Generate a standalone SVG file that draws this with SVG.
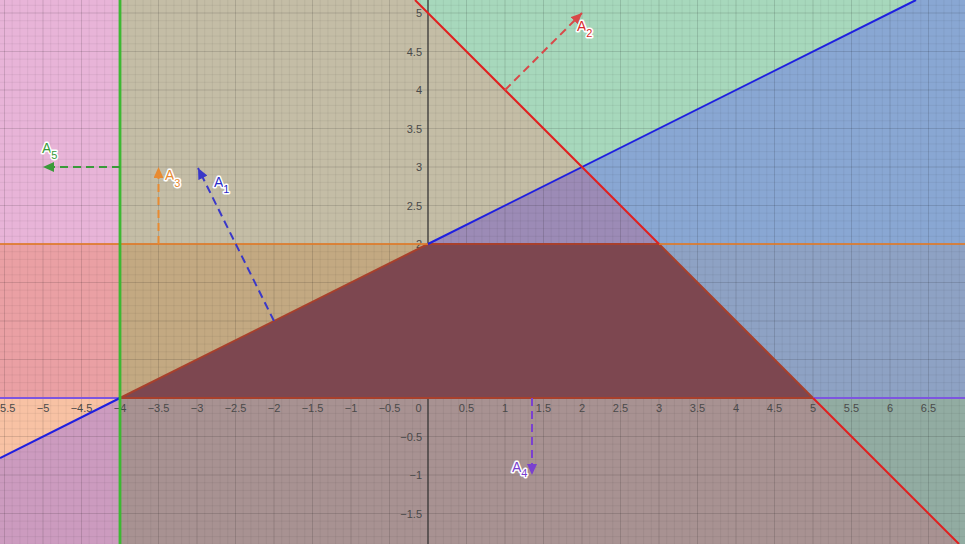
<svg xmlns="http://www.w3.org/2000/svg" width="965" height="544" viewBox="0 0 965 544">
<style>
.tick{font-family:"Liberation Sans",Arial,sans-serif;font-size:11px;fill:#4a4a4a}
.tx{text-anchor:middle}
.ty{text-anchor:end}
.lbl{font-family:"Liberation Sans",Arial,sans-serif;font-size:14px;stroke:#fff;stroke-width:3;stroke-linejoin:round;paint-order:stroke}
.sub{font-size:11px}
.vec{fill:none;stroke-width:2;stroke-dasharray:8 5}
.ln{fill:none;stroke-width:2}
.gl{fill:none;stroke-width:2.8}
</style>
<defs>
<pattern id="grid" patternUnits="userSpaceOnUse" x="428" y="398" width="77" height="77">
<path d="M7.7 0V77M15.4 0V77M23.1 0V77M30.8 0V77M46.2 0V77M53.9 0V77M61.6 0V77M69.3 0V77M0 7.7H77M0 15.4H77M0 23.1H77M0 30.8H77M0 46.2H77M0 53.9H77M0 61.6H77M0 69.3H77" stroke="#000" stroke-opacity="0.05" stroke-width="1" fill="none"/>
<path d="M0 0V77M38.5 0V77M77 0V77M0 0H77M0 38.5H77M0 77H77" stroke="#000" stroke-opacity="0.13" stroke-width="1" fill="none"/>
</pattern>
<marker id="mB" markerUnits="userSpaceOnUse" markerWidth="12" markerHeight="10" refX="11" refY="5" orient="auto"><path d="M0 0L11 5L0 10Z" fill="#3a38c8"/></marker>
<marker id="mR" markerUnits="userSpaceOnUse" markerWidth="12" markerHeight="10" refX="11" refY="5" orient="auto"><path d="M0 0L11 5L0 10Z" fill="#d84848"/></marker>
<marker id="mO" markerUnits="userSpaceOnUse" markerWidth="12" markerHeight="10" refX="11" refY="5" orient="auto"><path d="M0 0L11 5L0 10Z" fill="#e88a30"/></marker>
<marker id="mP" markerUnits="userSpaceOnUse" markerWidth="12" markerHeight="10" refX="11" refY="5" orient="auto"><path d="M0 0L11 5L0 10Z" fill="#7a40d0"/></marker>
<marker id="mG" markerUnits="userSpaceOnUse" markerWidth="12" markerHeight="10" refX="11" refY="5" orient="auto"><path d="M0 0L11 5L0 10Z" fill="#3a9a3a"/></marker>
</defs>

<g id="regions">
<polygon points="0,0 120,0 120,244 0,244" fill="#e8b4d8"/>
<polygon points="0,244 120,244 120,398 0,398" fill="#eaa0a4"/>
<polygon points="0,398 120,398 0,458" fill="#f8c2a4"/>
<polygon points="0,458 120,398 120,544 0,544" fill="#cc9bbf"/>
<polygon points="120,0 415,0 582,167 428,244 120,244" fill="#c4bda6"/>
<polygon points="415,0 916,0 582,167" fill="#a7d8bc"/>
<polygon points="916,0 965,0 965,244 659,244 582,167" fill="#89a7d3"/>
<polygon points="428,244 582,167 659,244" fill="#9c8bb6"/>
<polygon points="120,244 428,244 120,398" fill="#c3a982"/>
<polygon points="659,244 965,244 965,398 813,398" fill="#8ea2c4"/>
<polygon points="120,398 813,398 959,544 120,544" fill="#a89292"/>
<polygon points="813,398 965,398 965,544 959,544" fill="#92aca2"/>
</g>
<rect width="965" height="544" fill="url(#grid)"/>
<path d="M428 0V544" stroke="#333" stroke-width="1.2"/>

<g id="ticks">
<text class="tick tx" x="4.5" y="412">−5.5</text>
<text class="tick tx" x="43" y="412">−5</text>
<text class="tick tx" x="81.5" y="412">−4.5</text>
<text class="tick tx" x="120" y="412">−4</text>
<text class="tick tx" x="158.5" y="412">−3.5</text>
<text class="tick tx" x="197" y="412">−3</text>
<text class="tick tx" x="235.5" y="412">−2.5</text>
<text class="tick tx" x="274" y="412">−2</text>
<text class="tick tx" x="312.5" y="412">−1.5</text>
<text class="tick tx" x="351" y="412">−1</text>
<text class="tick tx" x="389.5" y="412">−0.5</text>
<text class="tick tx" x="418.5" y="412">0</text>
<text class="tick tx" x="466.5" y="412">0.5</text>
<text class="tick tx" x="505" y="412">1</text>
<text class="tick tx" x="543.5" y="412">1.5</text>
<text class="tick tx" x="582" y="412">2</text>
<text class="tick tx" x="620.5" y="412">2.5</text>
<text class="tick tx" x="659" y="412">3</text>
<text class="tick tx" x="697.5" y="412">3.5</text>
<text class="tick tx" x="736" y="412">4</text>
<text class="tick tx" x="774.5" y="412">4.5</text>
<text class="tick tx" x="813" y="412">5</text>
<text class="tick tx" x="851.5" y="412">5.5</text>
<text class="tick tx" x="890" y="412">6</text>
<text class="tick tx" x="928.5" y="412">6.5</text>
<text class="tick ty" x="422" y="17">5</text>
<text class="tick ty" x="422" y="55.5">4.5</text>
<text class="tick ty" x="422" y="94">4</text>
<text class="tick ty" x="422" y="132.5">3.5</text>
<text class="tick ty" x="422" y="171">3</text>
<text class="tick ty" x="422" y="209.5">2.5</text>
<text class="tick ty" x="422" y="248">2</text>
<text class="tick ty" x="422" y="440.5">−0.5</text>
<text class="tick ty" x="422" y="479">−1</text>
<text class="tick ty" x="422" y="517.5">−1.5</text>
</g>

<g id="feasible">
<polygon points="120,398 428,244 659,244 813,398" fill="#7d4750" stroke="#a8402c" stroke-width="2" stroke-linejoin="round"/>
</g>

<g id="connectors">
<path class="ln" d="M0 398H120M813 398H965" stroke="#7d55e0"/>
<path class="ln" d="M0 244H428M659 244H965" stroke="#e07b2a" stroke-opacity="0.85"/>
<path class="ln" d="M0 458L120 398M428 244L916 0" stroke="#1e1ee0"/>
<path class="ln" d="M415 0L659 244M813 398L959 544" stroke="#e02020"/>
<path class="gl" d="M120 0V544" stroke="#3cb832"/>
<path class="vec" d="M274 321L198 168" stroke="#3a38c8" marker-end="url(#mB)"/>
<path class="vec" d="M505 90L582 13" stroke="#d84848" marker-end="url(#mR)"/>
<path class="vec" d="M158.5 244V167" stroke="#e88a30" marker-end="url(#mO)"/>
<path class="vec" d="M532 398V475" stroke="#7a40d0" marker-end="url(#mP)"/>
<path class="vec" d="M120 167H43" stroke="#3a9a3a" marker-end="url(#mG)"/>
</g>

<g id="labels">
<text class="lbl" x="214" y="187" fill="#2a2ac8">A<tspan class="sub" dy="6">1</tspan></text>
<text class="lbl" x="577" y="31" fill="#d82a2a">A<tspan class="sub" dy="6">2</tspan></text>
<text class="lbl" x="165" y="180" fill="#e88a30">A<tspan class="sub" dy="7">3</tspan></text>
<text class="lbl" x="512" y="472" fill="#7a40d0">A<tspan class="sub" dy="5">4</tspan></text>
<text class="lbl" x="42" y="153" fill="#3a9a3a">A<tspan class="sub" dy="6">5</tspan></text>
</g>
</svg>
